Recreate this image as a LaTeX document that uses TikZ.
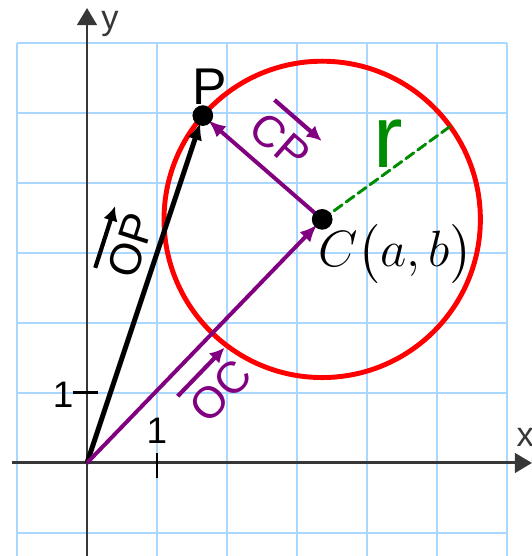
\documentclass[tikz,border=0pt]{standalone}
\usepackage{amsmath, amssymb}
\usepackage{fontspec}
\newfontfamily\labelfont{Liberation Sans}
\usepackage{tikz}
\usetikzlibrary{calc, arrows.meta}
\usepackage{tkz-euclide}

\definecolor{gridblue}{RGB}{170,215,255}
\definecolor{axisgray}{RGB}{55,55,55}
\definecolor{vecpurple}{RGB}{128,0,128}
\definecolor{radgreen}{RGB}{0,140,0}

\tikzset{
    gridline/.style={gridblue, line width=0.9pt},
    axisline/.style={axisgray, line width=1.2pt, -{Triangle[length=7pt,width=8pt]}},
    tickline/.style={black, line width=1.2pt},
    vecblack/.style={black, line width=2pt, -{Latex[length=7pt,width=6pt]}, shorten >=3pt},
    vecviolet/.style={vecpurple, line width=1.6pt, -{Latex[length=7pt,width=6pt]}, shorten >=3pt},
    veclab/.style={font=\labelfont\fontsize{18}{21}\selectfont, inner xsep=0pt, inner ysep=4.5pt},
    labarrow/.style={line width=1.7pt, -{Latex[length=6pt,width=6pt]}},
    axislab/.style={font=\labelfont\fontsize{14}{17}\selectfont, text=axisgray, inner sep=0pt},
    ticklab/.style={font=\labelfont\fontsize{15}{18}\selectfont, inner sep=0pt}
}

\begin{document}
\begin{tikzpicture}
                \useasboundingbox (-1.243,-1.329) rectangle (6.357,6.614);
                \draw[gridline, step=1] (-1,-1.329) grid (6,6);
                \tkzDefPoint(0,0){O}
                \tkzDefPoint(3.36,3.48){C}
                \tkzDefShiftPoint[C](139:2.26){P}
                \tkzDefShiftPoint[C](36:2.26){R}
                \draw[axisline] (-1.07,0) -- (6.357,0);
                \draw[axisline] (0,-1.329) -- (0,6.5);
                \draw[tickline] (-0.2,1) -- (0.16,1);
                \draw[tickline] (1,0.14) -- (1,-0.21);
                \node[axislab] (ylab) at (0.33,6.27) {y};
                \node[axislab] (xlab) at (6.26,0.37) {x};
                \node[ticklab] (onex) at (1.0,0.46) {1};
                \node[ticklab] (oney) at (-0.34,0.97) {1};
                \tkzDrawCircle[red, line width=2pt](C,P)
                \tkzDrawSegment[radgreen, line width=1.2pt, dash pattern=on 4pt off 2pt](C,R)
                \draw[vecblack] (O) -- (P);
                \draw[vecviolet] (O) -- (C);
                \draw[vecviolet] (C) -- (P);
                \tkzDrawPoints[fill=black, size=8](P,C)
                \node[font=\labelfont\fontsize{21}{25}\selectfont, inner sep=0pt] (plab) at (1.76,5.37) {P};
                \node[font=\labelfont\fontsize{36}{40}\selectfont, text=radgreen, inner sep=0pt] (rlab) at (4.3,4.56) {r};
                \node[font=\fontsize{20}{24}\selectfont, anchor=base west, inner sep=0pt] (clab) at (3.30,2.80) {$C\bigl(a,b\bigr)$};
                \node[veclab, rotate=72.2] (oplab) at (0.63,3.11) {OP};
                \draw[labarrow, black] (oplab.north west) -- (oplab.north east);
                \node[veclab, rotate=-41, text=vecpurple] (cplab) at (2.76,4.60) {CP};
                \draw[labarrow, vecpurple] (cplab.north west) -- (cplab.north east);
                \node[veclab, rotate=46, text=vecpurple] (oclab) at (1.91,1.03) {OC};
                \draw[labarrow, vecpurple] (oclab.north west) -- (oclab.north east);
            \end{tikzpicture}
\end{document}
